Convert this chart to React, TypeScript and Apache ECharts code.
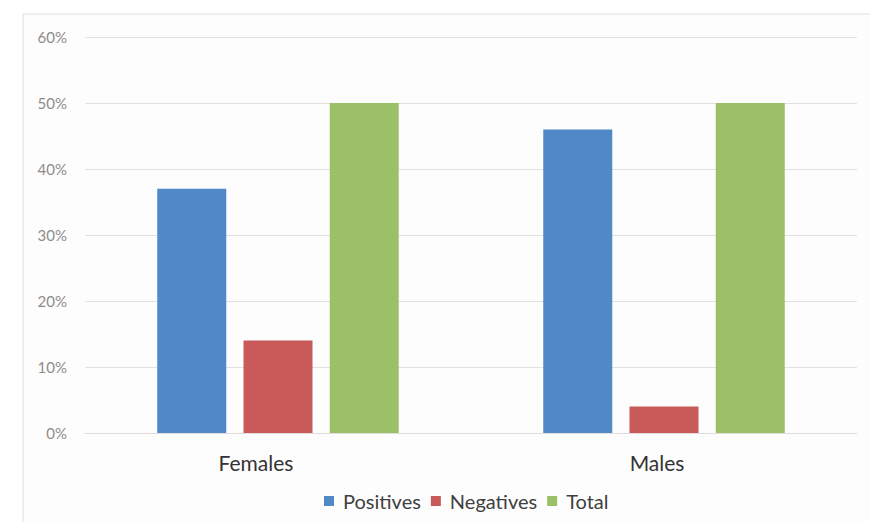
import React, { useEffect, useRef } from "react";
import * as echarts from "echarts";

const categories = ["Females", "Males"];
const positives = [37, 46];
const negatives = [14, 4];
const total = [50, 50];
const yTicks = [0, 10, 20, 30, 40, 50, 60];
const labelShift = [44, 14];

export default function App() {
  const ref = useRef<HTMLDivElement>(null);
  useEffect(() => {
    const chart = echarts.init(ref.current!, null, { renderer: "svg" });
    const font = "Lato, 'Noto Sans', sans-serif";
    chart.setOption({
      animation: false,
      backgroundColor: "#ffffff",
      graphic: [
        {
          type: "rect",
          shape: { x: 23, y: 14, width: 860, height: 520 },
          style: { fill: "#fdfdfd", stroke: "#e2dcdc", lineWidth: 1 },
          z: -10,
          silent: true,
        },
      ],
      grid: { left: 85, right: 13, top: 37, bottom: 89 },
      legend: {
        bottom: 6,
        left: 319,
        itemWidth: 10,
        itemHeight: 10,
        itemGap: 10,
        icon: "rect",
        textStyle: { fontFamily: font, fontSize: 20, color: "#404040", padding: [0, 0, 0, 4] },
        data: ["Positives", "Negatives", "Total"],
      },
      xAxis: {
        type: "category",
        data: categories.map((c, i) => ({
          value: c,
          textStyle: { padding: [0, labelShift[i], 0, 0] },
        })),
        axisLine: { show: true, lineStyle: { color: "#e3dcdc" } },
        axisTick: { show: false },
        axisLabel: { fontFamily: font, fontSize: 21, color: "#333333", margin: 19 },
      },
      yAxis: {
        type: "value",
        min: 0,
        max: 60,
        interval: 10,
        axisLine: { show: false },
        axisTick: { show: false },
        splitLine: { lineStyle: { color: "#e6dfdf", width: 1 } },
        axisLabel: {
          fontFamily: font,
          fontSize: 15,
          color: "#8c8c8c",
          margin: 18,
          formatter: (v: number) => (yTicks.includes(v) ? `${v}%` : ""),
        },
      },
      series: [
        { name: "Positives", type: "bar", data: positives, barWidth: 69, barGap: "25%", itemStyle: { color: "#5089c6" } },
        { name: "Negatives", type: "bar", data: negatives, barWidth: 69, barGap: "25%", itemStyle: { color: "#c85b5a" } },
        { name: "Total", type: "bar", data: total, barWidth: 69, barGap: "25%", itemStyle: { color: "#9bc067" } },
      ],
    });
    return () => chart.dispose();
  }, []);
  return <div ref={ref} style={{ width: 870, height: 522, position: "absolute", left: 0, top: 0 }} />;
}
